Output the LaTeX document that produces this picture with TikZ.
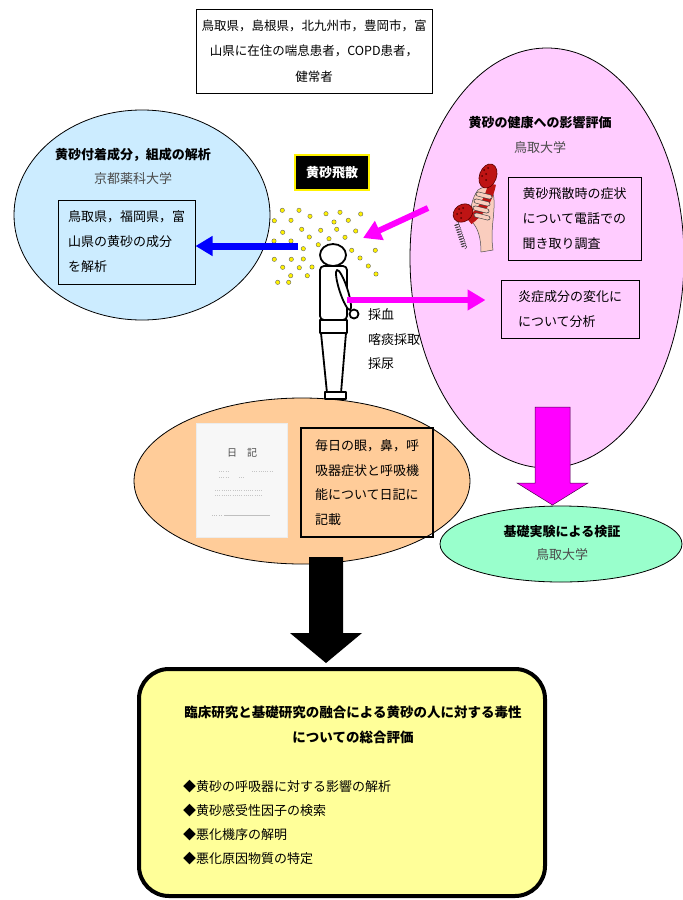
\documentclass[tikz,border=0pt]{standalone}
\usepackage{fontspec}
\setmainfont{Noto Sans CJK JP}
\usepackage{tikz}
\usetikzlibrary{shapes.geometric,arrows.meta,decorations.pathmorphing}

\definecolor{skyblue}{RGB}{204,236,255}
\definecolor{lightpink}{RGB}{255,204,255}
\definecolor{peach}{RGB}{255,204,153}
\definecolor{mint}{RGB}{153,255,204}
\definecolor{paleyellow}{RGB}{255,255,153}
\definecolor{skin}{RGB}{250,205,190}
\definecolor{hotpink}{RGB}{255,0,255}
\definecolor{phonered}{RGB}{190,20,20}
\definecolor{darkred}{RGB}{90,0,0}

\tikzset{
  zone/.style={ellipse, draw, line width=0.8pt, inner sep=0pt},
  plainbox/.style={draw, line width=1pt, align=left, inner sep=0pt, font=\fontsize{13}{25}\selectfont},
  heading/.style={font=\bfseries\fontsize{13}{16}\selectfont},
  univ/.style={text=black!70, font=\fontsize{13}{16}\selectfont},
  sample/.style={anchor=west, inner sep=0pt, font=\fontsize{13}{16}\selectfont},
  dust/.style={fill=yellow, draw=black!60, line width=0.4pt},
  figure/.style={draw=black, fill=white, line width=1.8pt, line join=round},
  bluearrow/.style={draw=blue, line width=7pt, -{Triangle[length=17pt,width=19pt]}},
  pinkarrow/.style={draw=hotpink, line width=6pt, -{Triangle[length=18pt,width=20pt]}},
}

\begin{document}
\begin{tikzpicture}[x=1pt,y=-1pt]
\useasboundingbox (0,0) rectangle (683,900);

% the four groups
\node[zone, fill=skyblue, minimum width=256pt, minimum height=210pt] (kyoto) at (142,215) {};
\node[zone, fill=lightpink, minimum width=274pt, minimum height=420pt] (tottori) at (547,258) {};
\node[zone, fill=peach, minimum width=336pt, minimum height=166pt] (diary) at (302,481) {};
\node[zone, fill=mint, minimum width=242pt, minimum height=76pt] (kiso) at (561,544) {};

\node[plainbox, fill=white, line width=0.8pt, align=center, font=\fontsize{12.5}{25.5}\selectfont,
      minimum width=236pt, minimum height=84pt] (area) at (314,51)
  {鳥取県，島根県，北九州市，豊岡市，富\\山県に在住の喘息患者，COPD患者，\\健常者};

% left: composition
\node[heading] (kyototitle) at (133,155) {黄砂付着成分，組成の解析};
\node[univ] (kyotouniv) at (133,179) {京都薬科大学};
\node[plainbox, minimum width=137pt, minimum height=84pt] (anan) at (126.5,242)
  {鳥取県，福岡県，富\\山県の黄砂の成分\\を解析};

% right: health effects
\node[heading] (tottorititle) at (540,123) {黄砂の健康への影響評価};
\node[univ] (tottoriuniv) at (540,148) {鳥取大学};
\node[plainbox, minimum width=133pt, minimum height=83pt] (denwa) at (574.5,218.5)
  {黄砂飛散時の症状\\について電話での\\聞き取り調査};
\node[plainbox, minimum width=138pt, minimum height=58pt] (bunseki) at (570,309)
  {炎症成分の変化に\\について分析};

% telephone
\filldraw[fill=skin, draw=black!70, line width=0.5pt] (478,190) .. controls (486,184) and (494,188) .. (494,200)
  .. controls (495,215) and (490,230) .. (493,250) -- (481,252)
  .. controls (481,238) and (478,228) .. (472,222) .. controls (469,210) and (472,198) .. (478,190) -- cycle;
\draw[phonered, line width=8pt] (492,184) .. controls (489,200) and (481,212) .. (469,221);
\foreach \a/\b in {478/194,476/201,475/208,476/215}{
  \draw[black!70, line width=4.8pt, line cap=round] (\a,\b) -- ++(12,3);
  \draw[skin, line width=3.6pt, line cap=round] (\a,\b) -- ++(12,3);
}
\filldraw[fill=phonered, draw=darkred, line width=0.6pt, rotate around={-20:(488,176)}] (488,176) ellipse (8.5 and 12.5);
\filldraw[fill=phonered, draw=darkred, line width=0.6pt, rotate around={-55:(463,213)}] (463,213) ellipse (8.5 and 10.5);
\foreach \x/\y in {484/170,488/168,486/174,482/176,486/180,459/209,463/208,461/213,457/214,461/218}
  \fill[darkred] (\x,\y) circle (1pt);
\draw[black!80, decorate, decoration={coil, aspect=0.4, segment length=2.5pt, amplitude=2.5pt}] (456,222) -- (465,249);

% diary
\node[heading, fill=black, draw=yellow, line width=1.2pt, text=white, minimum width=74pt, minimum height=35pt] (hisan) at (332,172.5) {黄砂飛散};
\node[fill=gray!6, draw=gray!15, minimum width=91pt, minimum height=114pt] (nikki) at (241.5,480) {};
\node[text=black!70, font=\fontsize{10}{12}\selectfont] (nikkititle) at (242,453) {日\quad 記};
\draw[gray!45, line width=0.4pt, dash pattern=on 1pt off 1.2pt] (219,471) -- (230,471) (252,471) -- (272,471)
  (219,477) -- (229,477) (239,477) -- (245,477)
  (215,490) -- (262,490) (215,495) -- (262,495);
\draw[gray!50, line width=0.4pt] (224,515) -- (270,515);
\draw[gray!50, line width=0.4pt, dash pattern=on 1pt off 1.2pt] (212,515) -- (222,515);
\node[plainbox, line width=1.6pt, font=\fontsize{13}{24.5}\selectfont, minimum width=132pt, minimum height=109pt] (kiroku) at (367,482.5)
  {毎日の眼，鼻，呼\\吸器症状と呼吸機\\能について日記に\\記載};

\node[heading] (kisotitle) at (562,532) {基礎実験による検証};
\node[univ] (kisouniv) at (562,555) {鳥取大学};

% dust cloud
\foreach \x/\y in {282.3/210.3,299/210.3,310/216.3,326/213.7,340/212.3,360.7/214,274.3/220.7,291/220.3,
  334/222,348.3/220.3,282.7/232.3,301.7/229.3,320.7/230.3,336.7/229.3,355.7/231,274/241,291/241,
  309.3/237,329/238.7,345/237.3,303.3/248.7,318.3/244.7,351.7/250.3,375.3/250.3,274.3/259.3,
  291.3/259.3,303.3/259,360/258,282.7/267.3,299.3/267.7,312/267,368.3/266,290.7/275.7,307.3/275.7,
  376/274,277.7/282.3,288.7/282.3}
  \filldraw[dust] (\x,\y) circle (2.2pt);

% person
\draw[figure] (321,333) -- (346,333) -- (341,393) -- (327,393) -- cycle;
\draw[figure] (325,392) rectangle (346,399);
\draw[figure] (320,320) rectangle (347,333);
\draw[figure, rounded corners=4pt] (320,266) rectangle (347,320);
\draw[figure, rotate around={18:(343.5,290)}] (343.5,290) ellipse (4 and 21);
\draw[figure] (354,314) circle (4.5pt);
\draw[figure] (333,255) ellipse (13 and 11);

\node[sample] (ketsu) at (368,315) {採血};
\node[sample] (tan) at (368,340) {喀痰採取};
\node[sample] (nyo) at (368,364) {採尿};

\coordinate (dustL) at (298,246);
\coordinate (armR) at (347,300);
\coordinate (phoneL) at (428,208);
\coordinate (dustR) at (363,238);
\draw[bluearrow] (dustL) -- (dustL -| anan.east);
\draw[pinkarrow, shorten >=15pt] (armR) -- (armR -| bunseki.west);
\draw[pinkarrow] (phoneL) -- (dustR);

% block arrows
\filldraw[fill=hotpink, draw=violet!60!black, line width=0.5pt]
  (535,407) -- (570,407) -- (570,483) -- (588,483) -- (552.5,505) -- (517,483) -- (535,483) -- cycle;
\fill[black] (309,557) -- (343,557) -- (343,633) -- (362,633) -- (326,663) -- (290,633) -- (309,633) -- cycle;

% summary
\node[draw, line width=4pt, rounded corners=30pt, fill=paleyellow, minimum width=406pt, minimum height=227pt] (sogo) at (342,782.5) {};
\node[align=center, font=\bfseries\fontsize{13.5}{25}\selectfont] (sogotitle) at (353,724.5)
  {臨床研究と基礎研究の融合による黄砂の人に対する毒性\\についての総合評価};
\node[anchor=west, align=left, inner sep=0pt, font=\fontsize{13}{24.3}\selectfont] (points) at (183,822.5)
  {◆黄砂の呼吸器に対する影響の解析\\◆黄砂感受性因子の検索\\◆悪化機序の解明\\◆悪化原因物質の特定};
\end{tikzpicture}
\end{document}
